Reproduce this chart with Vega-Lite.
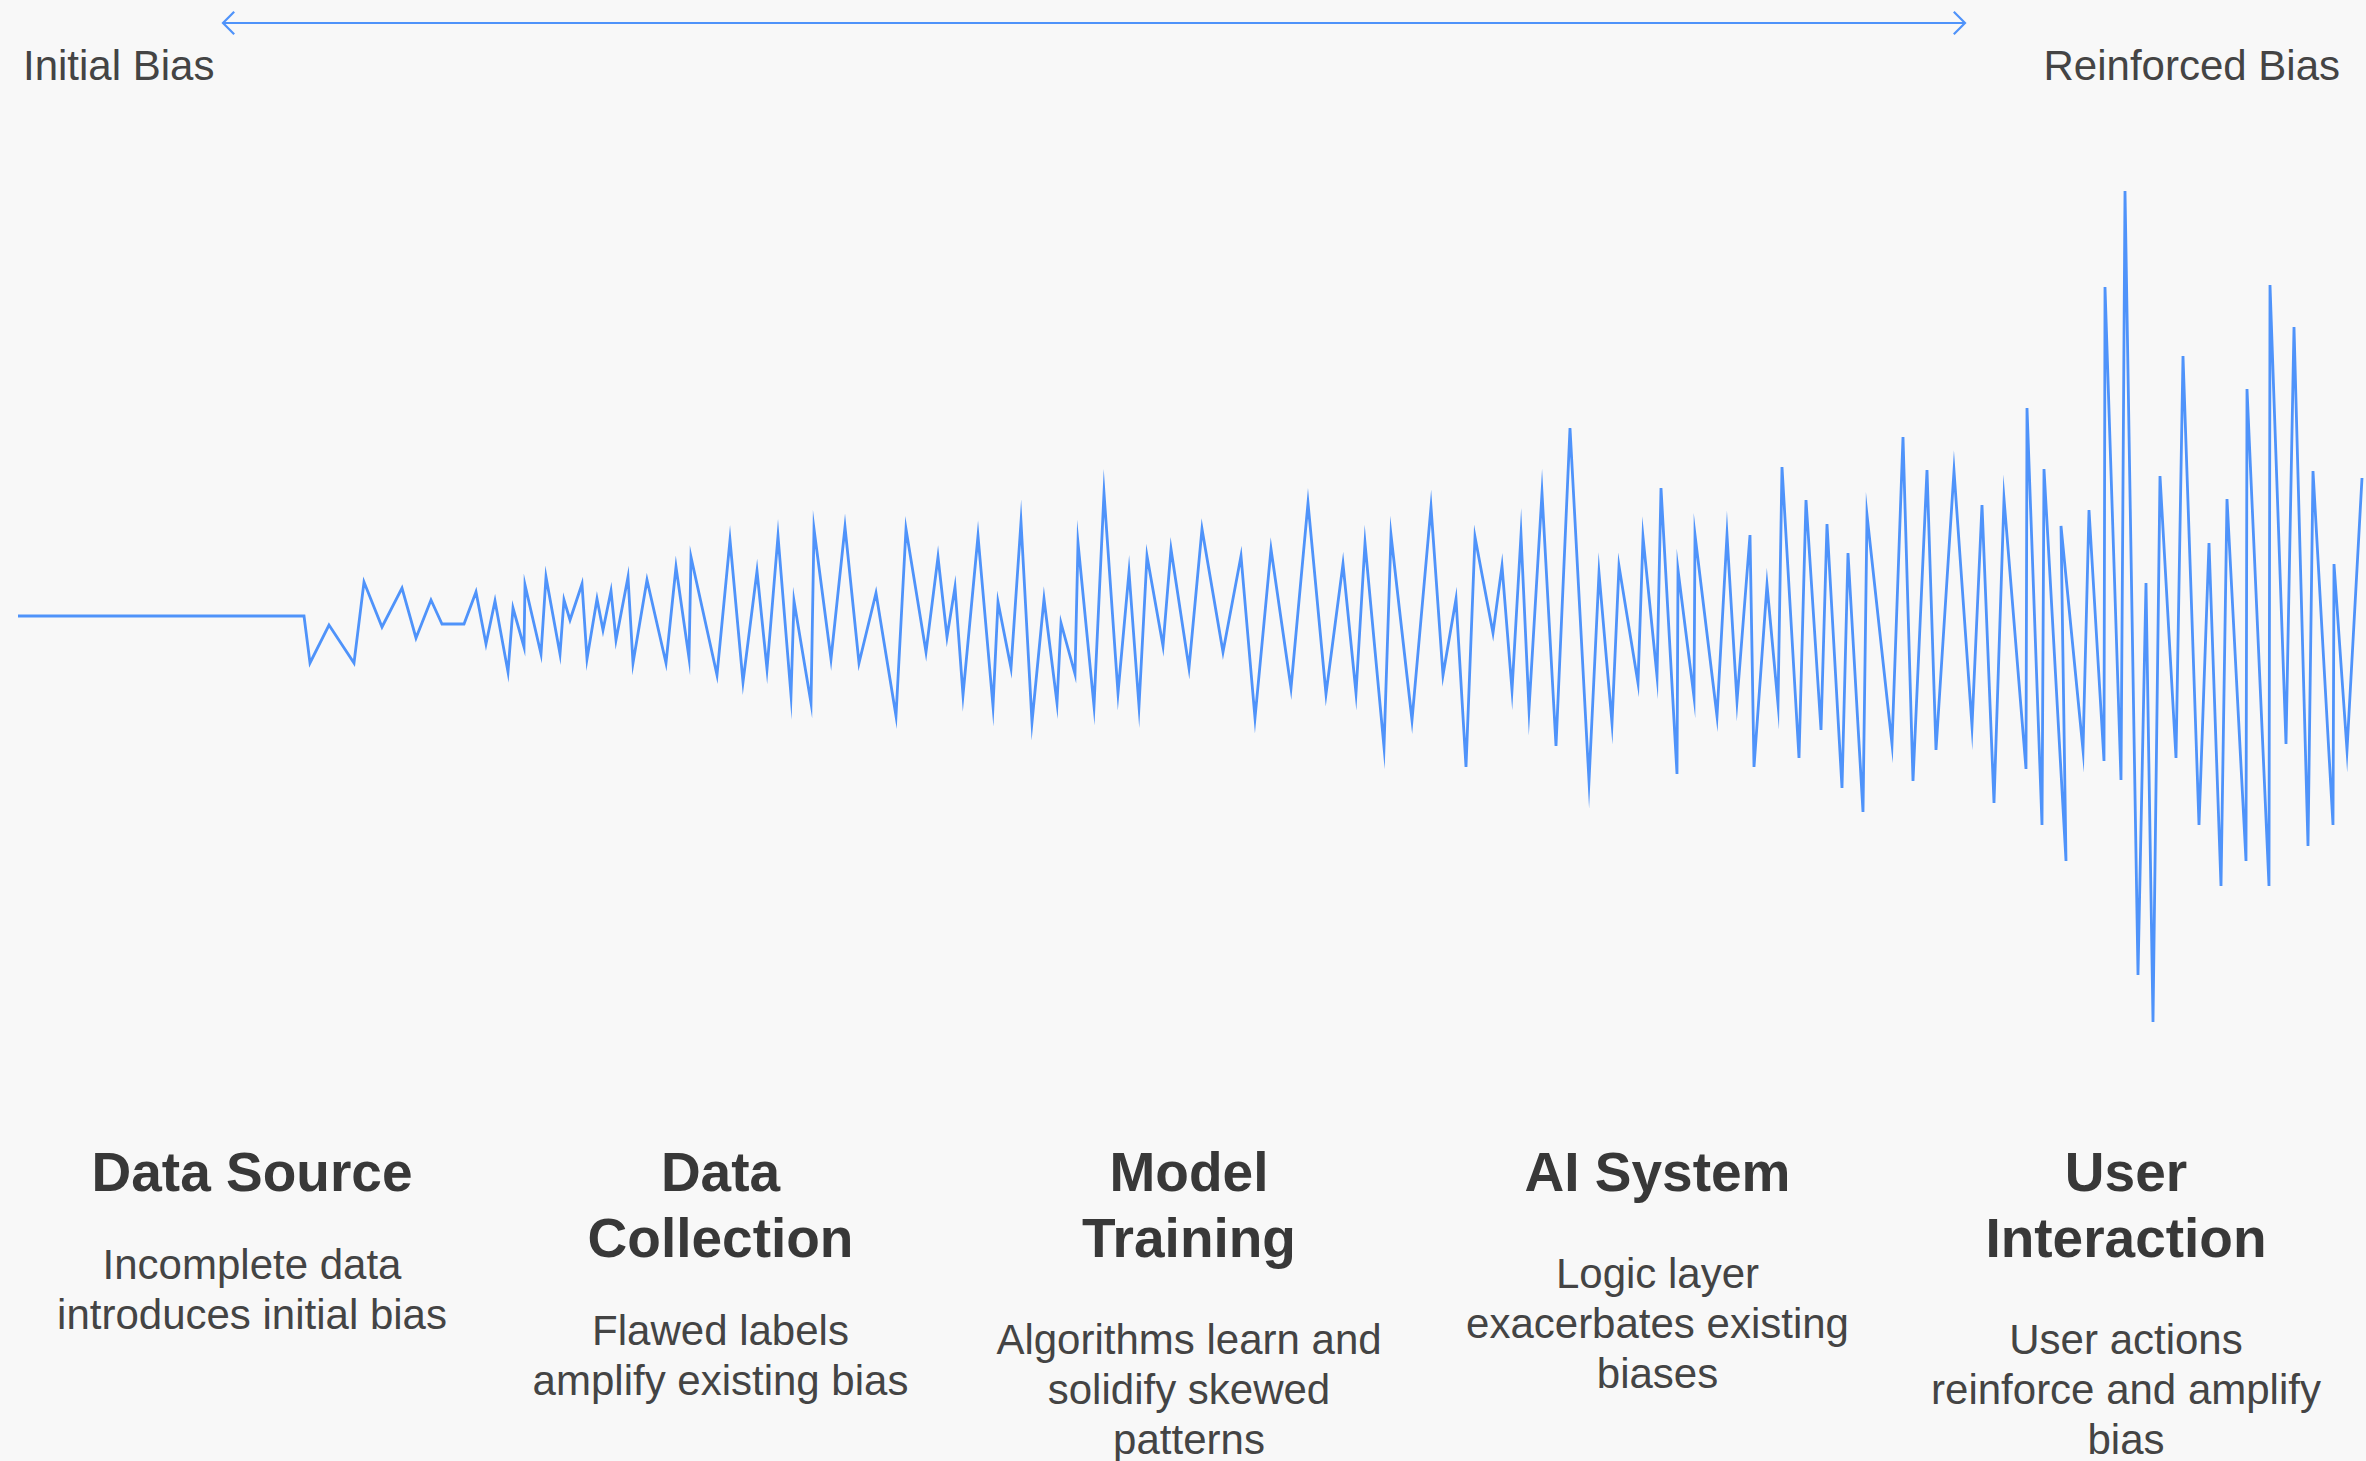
{
  "$schema": "https://vega.github.io/schema/vega-lite/v6.json",
  "width": 2366,
  "height": 1461,
  "autosize": {"type": "none"},
  "padding": 0,
  "background": "#f8f8f8",
  "config": {"view": {"stroke": null}, "font": "Liberation Sans"},
  "datasets": {
    "wave": [
      {"i":1,"t":18,"v":0},{"i":2,"t":304,"v":0},{"i":3,"t":310,"v":-47},{"i":4,"t":329,"v":-9},{"i":5,"t":354,"v":-47},
      {"i":6,"t":364,"v":34},{"i":7,"t":382,"v":-11},{"i":8,"t":402,"v":28},{"i":9,"t":416,"v":-22},{"i":10,"t":431,"v":16},
      {"i":11,"t":442,"v":-8},{"i":12,"t":464,"v":-8},{"i":13,"t":476,"v":24},{"i":14,"t":486,"v":-28},{"i":15,"t":495,"v":15},
      {"i":16,"t":508,"v":-56},{"i":17,"t":513,"v":8},{"i":18,"t":524,"v":-31},{"i":19,"t":525,"v":31},{"i":20,"t":541,"v":-38},
      {"i":21,"t":546,"v":39},{"i":22,"t":560,"v":-38},{"i":23,"t":564,"v":16},{"i":24,"t":570,"v":-4},{"i":25,"t":582,"v":32},
      {"i":26,"t":587,"v":-43},{"i":27,"t":597,"v":17},{"i":28,"t":603,"v":-14},{"i":29,"t":611,"v":25},{"i":30,"t":616,"v":-24},
      {"i":31,"t":628,"v":39},{"i":32,"t":633,"v":-47},{"i":33,"t":647,"v":36},{"i":34,"t":666,"v":-47},{"i":35,"t":676,"v":49},
      {"i":36,"t":689,"v":-42},{"i":37,"t":691,"v":59},{"i":38,"t":717,"v":-59},{"i":39,"t":730,"v":76},{"i":40,"t":743,"v":-66},
      {"i":41,"t":757,"v":45},{"i":42,"t":767,"v":-53},{"i":43,"t":778,"v":80},{"i":44,"t":791,"v":-79},{"i":45,"t":794,"v":15},
      {"i":46,"t":811,"v":-87},{"i":47,"t":814,"v":87},{"i":48,"t":831,"v":-43},{"i":49,"t":845,"v":89},{"i":50,"t":859,"v":-47},
      {"i":51,"t":876,"v":23},{"i":52,"t":896,"v":-100},{"i":53,"t":906,"v":87},{"i":54,"t":926,"v":-36},{"i":55,"t":938,"v":59},
      {"i":56,"t":947,"v":-21},{"i":57,"t":955,"v":29},{"i":58,"t":963,"v":-79},{"i":59,"t":978,"v":80},{"i":60,"t":993,"v":-90},
      {"i":61,"t":998,"v":14},{"i":62,"t":1011,"v":-52},{"i":63,"t":1021,"v":94},{"i":64,"t":1032,"v":-106},{"i":65,"t":1044,"v":17},
      {"i":66,"t":1057,"v":-87},{"i":67,"t":1061,"v":-7},{"i":68,"t":1075,"v":-58},{"i":69,"t":1078,"v":73},{"i":70,"t":1094,"v":-90},
      {"i":71,"t":1104,"v":123},{"i":72,"t":1118,"v":-77},{"i":73,"t":1129,"v":44},{"i":74,"t":1139,"v":-90},{"i":75,"t":1147,"v":60},
      {"i":76,"t":1163,"v":-30},{"i":77,"t":1171,"v":67},{"i":78,"t":1189,"v":-52},{"i":79,"t":1202,"v":87},{"i":80,"t":1223,"v":-36},
      {"i":81,"t":1241,"v":60},{"i":82,"t":1255,"v":-102},{"i":83,"t":1271,"v":67},{"i":84,"t":1291,"v":-72},{"i":85,"t":1308,"v":113},
      {"i":86,"t":1326,"v":-78},{"i":87,"t":1343,"v":52},{"i":88,"t":1356,"v":-77},{"i":89,"t":1365,"v":73},{"i":90,"t":1384,"v":-131},
      {"i":91,"t":1391,"v":81},{"i":92,"t":1412,"v":-104},{"i":93,"t":1431,"v":109},{"i":94,"t":1443,"v":-59},{"i":95,"t":1456,"v":17},
      {"i":96,"t":1466,"v":-151},{"i":97,"t":1475,"v":79},{"i":98,"t":1493,"v":-17},{"i":99,"t":1502,"v":50},{"i":100,"t":1512,"v":-74},
      {"i":101,"t":1521,"v":81},{"i":102,"t":1529,"v":-93},{"i":103,"t":1542,"v":123},{"i":104,"t":1556,"v":-130},{"i":105,"t":1570,"v":188},
      {"i":106,"t":1589,"v":-165},{"i":107,"t":1599,"v":43},{"i":108,"t":1612,"v":-107},{"i":109,"t":1619,"v":50},{"i":110,"t":1638,"v":-67},
      {"i":111,"t":1643,"v":79},{"i":112,"t":1657,"v":-60},{"i":113,"t":1661,"v":128},{"i":114,"t":1677,"v":-158},{"i":115,"t":1678,"v":46},
      {"i":116,"t":1694,"v":-81},{"i":117,"t":1695,"v":81},{"i":118,"t":1717,"v":-100},{"i":119,"t":1727,"v":81},{"i":120,"t":1737,"v":-85},
      {"i":121,"t":1750,"v":81},{"i":122,"t":1754,"v":-151},{"i":123,"t":1767,"v":31},{"i":124,"t":1778,"v":-88},{"i":125,"t":1782,"v":149},
      {"i":126,"t":1799,"v":-142},{"i":127,"t":1806,"v":116},{"i":128,"t":1821,"v":-114},{"i":129,"t":1827,"v":92},{"i":130,"t":1842,"v":-172},
      {"i":131,"t":1848,"v":63},{"i":132,"t":1863,"v":-196},{"i":133,"t":1867,"v":101},{"i":134,"t":1892,"v":-128},{"i":135,"t":1903,"v":179},
      {"i":136,"t":1913,"v":-165},{"i":137,"t":1927,"v":146},{"i":138,"t":1936,"v":-134},{"i":139,"t":1954,"v":145},{"i":140,"t":1972,"v":-110},
      {"i":141,"t":1982,"v":111},{"i":142,"t":1994,"v":-187},{"i":143,"t":2004,"v":117},{"i":144,"t":2026,"v":-153},{"i":145,"t":2027,"v":208},
      {"i":146,"t":2042,"v":-209},{"i":147,"t":2044,"v":147},{"i":148,"t":2066,"v":-245},{"i":149,"t":2061,"v":90},{"i":150,"t":2083,"v":-134},
      {"i":151,"t":2089,"v":106},{"i":152,"t":2104,"v":-145},{"i":153,"t":2105,"v":329},{"i":154,"t":2121,"v":-164},{"i":155,"t":2125,"v":425},
      {"i":156,"t":2138,"v":-359},{"i":157,"t":2146,"v":33},{"i":158,"t":2153,"v":-406},{"i":159,"t":2160,"v":140},{"i":160,"t":2176,"v":-142},
      {"i":161,"t":2183,"v":260},{"i":162,"t":2199,"v":-209},{"i":163,"t":2209,"v":73},{"i":164,"t":2221,"v":-270},{"i":165,"t":2227,"v":117},
      {"i":166,"t":2246,"v":-245},{"i":167,"t":2247,"v":227},{"i":168,"t":2269,"v":-270},{"i":169,"t":2270,"v":331},{"i":170,"t":2286,"v":-128},
      {"i":171,"t":2294,"v":289},{"i":172,"t":2308,"v":-230},{"i":173,"t":2313,"v":145},{"i":174,"t":2333,"v":-209},{"i":175,"t":2334,"v":52},
      {"i":176,"t":2347,"v":-134},{"i":177,"t":2362,"v":138}
    ],
    "stages": [
      {"step":0,"stage":"Data Source","title":["Data Source"],"desc":["Incomplete data","introduces initial bias"]},
      {"step":1,"stage":"Data Collection","title":["Data","Collection"],"desc":["Flawed labels","amplify existing bias"]},
      {"step":2,"stage":"Model Training","title":["Model","Training"],"desc":["Algorithms learn and","solidify skewed","patterns"]},
      {"step":3,"stage":"AI System","title":["AI System"],"desc":["Logic layer","exacerbates existing","biases"]},
      {"step":4,"stage":"User Interaction","title":["User","Interaction"],"desc":["User actions","reinforce and amplify","bias"]}
    ]
  },
  "resolve": {"scale": {"x": "independent"}},
  "layer": [
    {
      "layer": [
        {
          "data": {"name": "wave"},
          "mark": {"type": "line", "color": "#4f93fa", "strokeWidth": 2.8, "strokeJoin": "miter", "strokeMiterLimit": 20},
          "encoding": {
            "x": {"field": "t", "type": "quantitative", "scale": {"domain": [0, 2366], "nice": false, "zero": false}, "axis": null},
            "y": {"field": "v", "type": "quantitative", "scale": {"domain": [-845, 616], "nice": false, "zero": false}, "axis": null},
            "order": {"field": "i", "type": "quantitative"}
          }
        },
        {
          "data": {"values": [{"label": "Initial Bias → Reinforced Bias"}]},
          "mark": {"type": "rule", "color": "#4f93fa", "strokeWidth": 2.2},
          "encoding": {
            "x": {"datum": 223, "type": "quantitative", "scale": {"domain": [0, 2366], "nice": false, "zero": false}, "axis": null},
            "x2": {"datum": 1965},
            "y": {"datum": 593, "type": "quantitative", "scale": {"domain": [-845, 616], "nice": false, "zero": false}, "axis": null}
          }
        },
        {
          "data": {"values": [{"end": "start"}]},
          "mark": {"type": "point", "shape": "M 1 -1 L 0 0 L 1 1", "filled": false, "color": "#4f93fa", "strokeWidth": 2.2, "size": 500, "opacity": 1},
          "encoding": {
            "x": {"datum": 223, "type": "quantitative"},
            "y": {"datum": 593, "type": "quantitative"}
          }
        },
        {
          "data": {"values": [{"end": "end"}]},
          "mark": {"type": "point", "shape": "M -1 -1 L 0 0 L -1 1", "filled": false, "color": "#4f93fa", "strokeWidth": 2.2, "size": 500, "opacity": 1},
          "encoding": {
            "x": {"datum": 1965, "type": "quantitative"},
            "y": {"datum": 593, "type": "quantitative"}
          }
        },
        {
          "data": {"values": [{"label": "Initial Bias"}]},
          "mark": {"type": "text", "align": "left", "baseline": "alphabetic", "fontSize": 42, "color": "#444444"},
          "encoding": {
            "x": {"datum": 23, "type": "quantitative"},
            "y": {"datum": 536, "type": "quantitative"},
            "text": {"field": "label"}
          }
        },
        {
          "data": {"values": [{"label": "Reinforced Bias"}]},
          "mark": {"type": "text", "align": "right", "baseline": "alphabetic", "fontSize": 42, "color": "#444444"},
          "encoding": {
            "x": {"datum": 2340, "type": "quantitative"},
            "y": {"datum": 536, "type": "quantitative"},
            "text": {"field": "label"}
          }
        }
      ]
    },
    {
      "data": {"name": "stages"},
      "encoding": {
        "x": {"field": "step", "type": "quantitative", "scale": {"domain": [-0.5379, 4.5123], "nice": false, "zero": false}, "axis": null}
      },
      "layer": [
        {
          "mark": {"type": "text", "align": "center", "baseline": "alphabetic", "fontSize": 55, "fontWeight": "bold", "lineHeight": 66, "color": "#383838"},
          "encoding": {
            "y": {"datum": -575, "type": "quantitative", "scale": {"domain": [-845, 616], "nice": false, "zero": false}, "axis": null},
            "text": {"field": "title"}
          }
        },
        {
          "transform": [{"filter": {"field": "stage", "oneOf": ["Data Source"]}}],
          "mark": {"type": "text", "align": "center", "baseline": "alphabetic", "fontSize": 42, "lineHeight": 50, "color": "#444444"},
          "encoding": {"y": {"datum": -663, "type": "quantitative"}, "text": {"field": "desc"}}
        },
        {
          "transform": [{"filter": {"field": "stage", "oneOf": ["AI System"]}}],
          "mark": {"type": "text", "align": "center", "baseline": "alphabetic", "fontSize": 42, "lineHeight": 50, "color": "#444444"},
          "encoding": {"y": {"datum": -672, "type": "quantitative"}, "text": {"field": "desc"}}
        },
        {
          "transform": [{"filter": {"field": "stage", "oneOf": ["Data Collection"]}}],
          "mark": {"type": "text", "align": "center", "baseline": "alphabetic", "fontSize": 42, "lineHeight": 50, "color": "#444444"},
          "encoding": {"y": {"datum": -729, "type": "quantitative"}, "text": {"field": "desc"}}
        },
        {
          "transform": [{"filter": {"field": "stage", "oneOf": ["Model Training", "User Interaction"]}}],
          "mark": {"type": "text", "align": "center", "baseline": "alphabetic", "fontSize": 42, "lineHeight": 50, "color": "#444444"},
          "encoding": {"y": {"datum": -738, "type": "quantitative"}, "text": {"field": "desc"}}
        }
      ]
    }
  ]
}
